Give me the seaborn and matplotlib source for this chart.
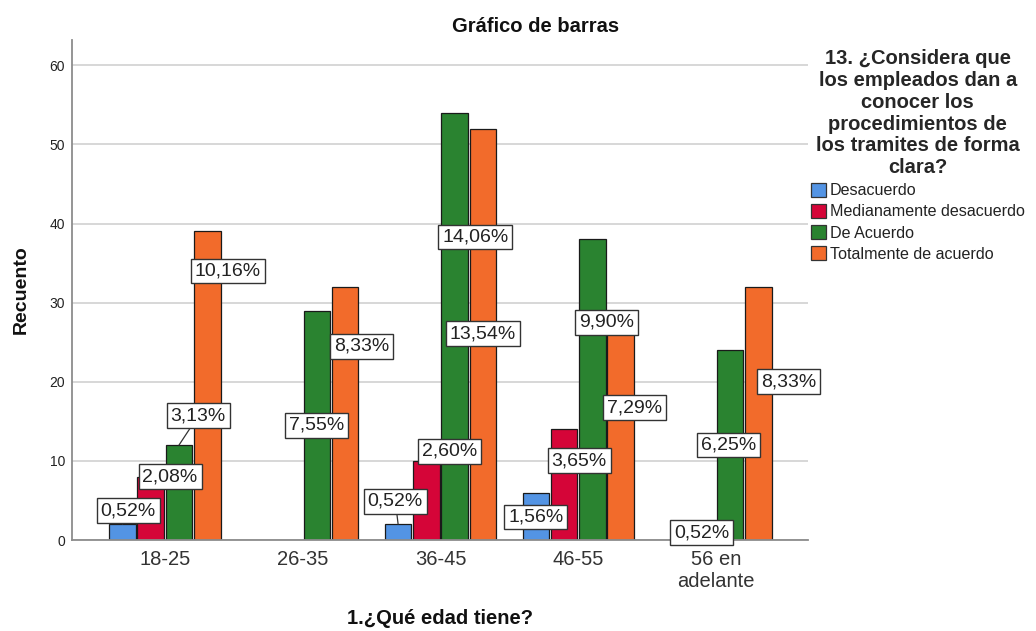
import matplotlib
matplotlib.use("Agg")
import matplotlib.pyplot as plt
import seaborn as sns
import pandas as pd
from decimal import Decimal, ROUND_HALF_UP

# Counts per age group and answer (percentages are of the total, n = 384)
edades = ['18-25', '26-35', '36-45', '46-55', '56 en\nadelante']
respuestas = ['Desacuerdo', 'Medianamente desacuerdo', 'De Acuerdo', 'Totalmente de acuerdo']
desacuerdo = [2, 0, 2, 6, 0]
medianamente = [8, 0, 10, 14, 2]
de_acuerdo = [12, 29, 54, 38, 24]
totalmente = [39, 32, 52, 28, 32]

colores = ['#5394E4', '#D50538', '#2A8330', '#F26B2B']

# label placement (dx in category units, y in count units) per answer / age group
label_pos = [
    [(0.04, 3.7), None, (-0.02, 4.9), (0.0, 2.9), None],
    [(0.14, 8.0), None, (0.17, 11.2), (0.11, 10.0), (0.0, 0.9)],
    [(0.14, 15.7), (0.0, 14.5), (0.15, 38.3), (0.10, 27.5), (-0.01, 12.0)],
    [(0.15, 34.0), (0.12, 24.5), (0.0, 26.1), (0.10, 16.7), (0.22, 20.0)],
]

series = [desacuerdo, medianamente, de_acuerdo, totalmente]
rows = []
for resp, vals in zip(respuestas, series):
    for edad, v in zip(edades, vals):
        rows.append({'edad': edad, 'respuesta': resp, 'n': v})
df = pd.DataFrame(rows)
total = int(df['n'].sum())

sns.set_theme(style="white")
plt.rcParams['font.family'] = ['Liberation Sans', 'DejaVu Sans']

fig = plt.figure(figsize=(10.36, 6.31), dpi=100)
ax = fig.add_axes([72 / 1036, 1 - 540 / 631, 736 / 1036, 500 / 631])

sns.barplot(data=df, x='edad', y='n', hue='respuesta', order=edades,
            hue_order=respuestas, palette=colores, width=0.82, gap=0.06,
            edgecolor='#1a1a1a', linewidth=0.9, saturation=1, ax=ax)

ax.set_xlim(-0.674, 4.667)
ax.set_ylim(0, 63.2)
ax.set_yticks([0, 10, 20, 30, 40, 50, 60])
ax.yaxis.grid(True, color='#d4d4d4', linewidth=1.3)
ax.set_axisbelow(True)
for s in ['top', 'right']:
    ax.spines[s].set_visible(False)
for s in ['left', 'bottom']:
    ax.spines[s].set_color('#8c8c8c')
    ax.spines[s].set_linewidth(1.3)
ax.tick_params(axis='y', length=0, labelsize=10, pad=5, colors='#222222')
ax.tick_params(axis='x', length=0, labelsize=14.5, pad=7, colors='#333333')

fig.text(536 / 1036, 1 - 27 / 631, 'Gráfico de barras', fontsize=14.5,
         fontweight='bold', ha='center', va='center', color='#111111')
ax.set_ylabel('Recuento', fontsize=14, fontweight='bold', color='#111111')
ax.yaxis.set_label_coords(-0.058, 0.5)
ax.set_xlabel('1.¿Qué edad tiene?', fontsize=14.5, fontweight='bold', color='#111111')
ax.xaxis.set_label_coords(0.5, -0.138)

# percentage labels
for i, cont in enumerate(ax.containers[:4]):
    for j, bar in enumerate(cont):
        h = bar.get_height()
        if h == 0:
            bar.set_visible(False)
        pos = label_pos[i][j]
        if pos is None:
            continue
        xc = bar.get_x() + bar.get_width() / 2
        pct = (Decimal(int(h)) * 100 / Decimal(total)).quantize(Decimal('0.01'), ROUND_HALF_UP)
        txt = f"{pct}%".replace('.', ',')
        arrow = None
        if pos[1] > h:
            arrow = dict(arrowstyle='-', color='#333333', lw=0.9, shrinkA=0, shrinkB=0)
        ax.annotate(txt, xy=(xc, h), xytext=(xc + pos[0], pos[1]),
                    ha='center', va='center', fontsize=14, color='#222222',
                    bbox=dict(boxstyle='square,pad=0.2', fc='white', ec='#333333', lw=1),
                    arrowprops=arrow, zorder=5)

ax.get_legend().remove()
handles = [plt.Rectangle((0, 0), 1, 1, fc=c, ec='#333333', lw=0.9) for c in colores]
leg = fig.legend(handles, respuestas, loc='upper left',
                 bbox_to_anchor=(811 / 1036, 1 - 49 / 631), frameon=False,
                 title='13. ¿Considera que\nlos empleados dan a\nconocer los\nprocedimientos de\nlos tramites de forma\nclara?',
                 title_fontproperties={'weight': 'bold', 'size': 14.5},
                 fontsize=11.6, handlelength=0.95, handleheight=0.95,
                 handletextpad=0.2, labelspacing=0.35, borderpad=0,
                 borderaxespad=0, alignment='center')
leg.get_title().set_multialignment('center')
leg.get_title().set_linespacing(1.19)
for t in leg.get_texts():
    t.set_color('#222222')

fig.savefig('out.png', dpi=100)
